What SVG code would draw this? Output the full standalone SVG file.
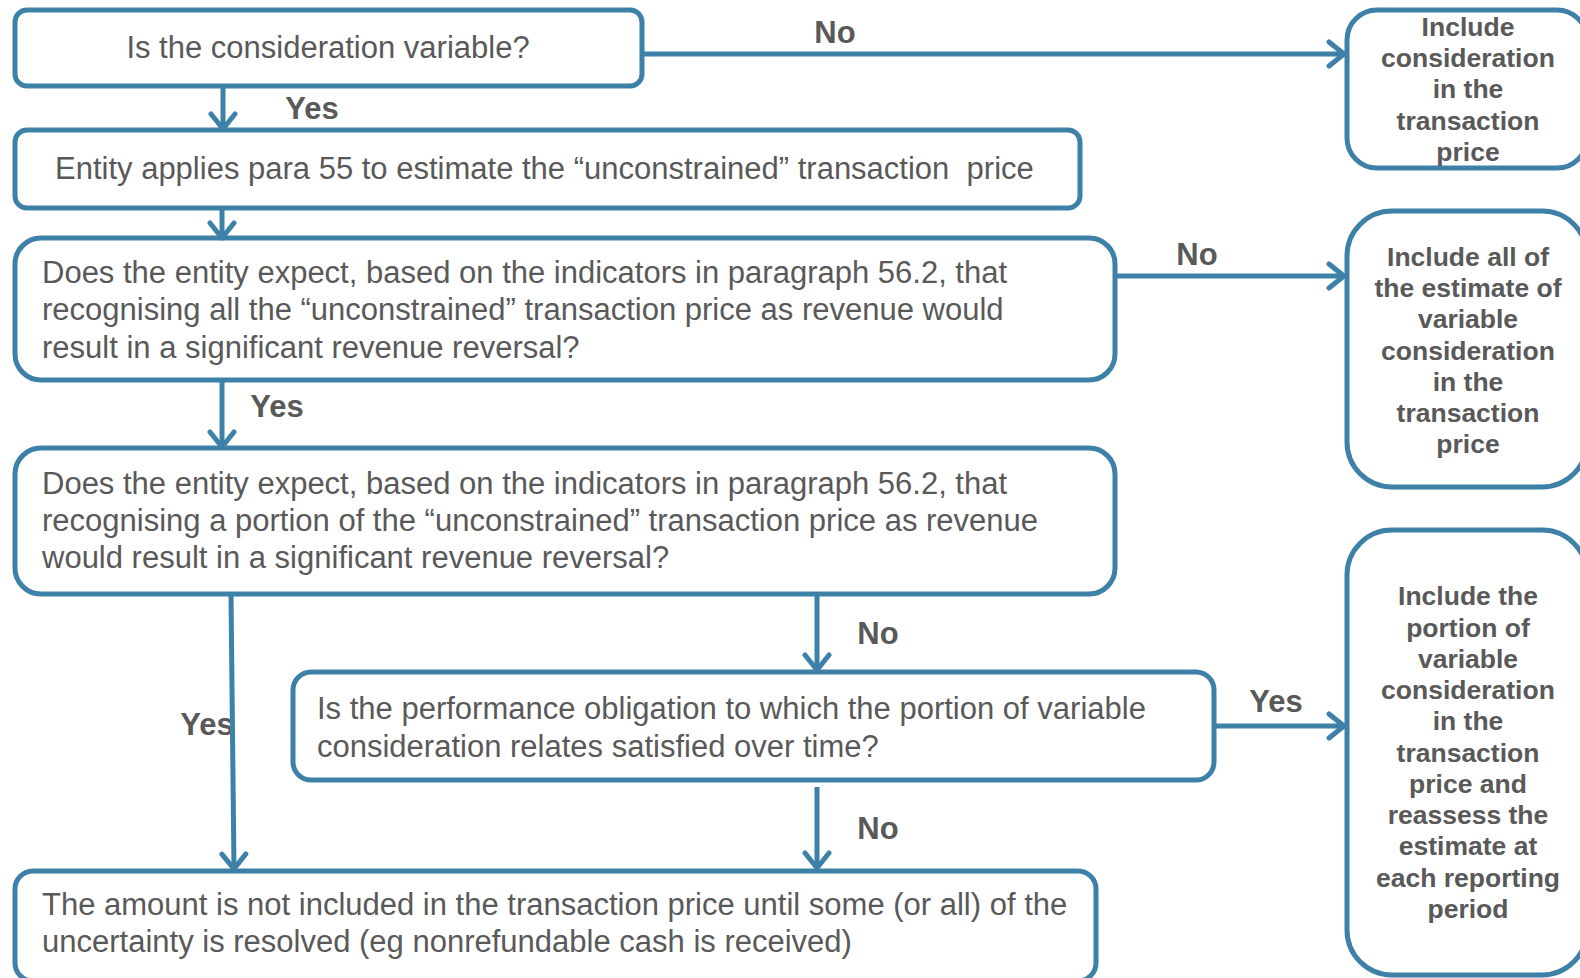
<svg xmlns="http://www.w3.org/2000/svg" width="1580" height="978" viewBox="0 0 1580 978">
<defs>
<marker id="ah" markerUnits="userSpaceOnUse" markerWidth="30" markerHeight="30" viewBox="0 0 30 30" refX="24" refY="15" orient="auto">
<path d="M9,3 L24,15 L9,27" fill="none" stroke="#3d80a8" stroke-width="5" stroke-linecap="round" stroke-linejoin="round"/>
</marker>
<style>
.box{fill:#fff;stroke:#3d80a8;stroke-width:5}
.t{font-family:"Liberation Sans",Arial,sans-serif;font-size:31px;fill:#595959}
.b{font-family:"Liberation Sans",Arial,sans-serif;font-size:26.5px;font-weight:bold;fill:#595959;text-anchor:middle}
.lbl{font-family:"Liberation Sans",Arial,sans-serif;font-size:31px;font-weight:bold;fill:#595959;text-anchor:middle}
.c{fill:none;stroke:#3d80a8;stroke-width:5;marker-end:url(#ah)}
</style>
</defs>
<rect width="1580" height="978" fill="#fff"/>

<g id="n1">
<rect class="box" x="15" y="10" width="627" height="76" rx="12"/>
<text class="t" x="328" y="58" text-anchor="middle">Is the consideration variable?</text>
</g>
<g id="n2">
<rect class="box" x="15" y="130" width="1065" height="78" rx="12"/>
<text class="t" x="55" y="179" style="white-space:pre">Entity applies para 55 to estimate the “unconstrained” transaction  price</text>
</g>
<g id="n3">
<rect class="box" x="15" y="238" width="1100" height="142" rx="26"/>
<text class="t" x="42" y="283">Does the entity expect, based on the indicators in paragraph 56.2, that</text>
<text class="t" x="42" y="320">recognising all the “unconstrained” transaction price as revenue would</text>
<text class="t" x="42" y="358">result in a significant revenue reversal?</text>
</g>
<g id="n4">
<rect class="box" x="15" y="448" width="1100" height="146" rx="26"/>
<text class="t" x="42" y="494">Does the entity expect, based on the indicators in paragraph 56.2, that</text>
<text class="t" x="42" y="531">recognising a portion of the “unconstrained” transaction price as revenue</text>
<text class="t" x="42" y="568">would result in a significant revenue reversal?</text>
</g>
<g id="n5">
<rect class="box" x="293" y="672" width="921" height="108" rx="18"/>
<text class="t" x="317" y="719">Is the performance obligation to which the portion of variable</text>
<text class="t" x="317" y="757">consideration relates satisfied over time?</text>
</g>
<g id="n6">
<rect class="box" x="15" y="871" width="1081" height="110" rx="18"/>
<text class="t" x="42" y="915">The amount is not included in the transaction price until some (or all) of the</text>
<text class="t" x="42" y="952">uncertainty is resolved (eg nonrefundable cash is received)</text>
</g>
<g id="r1">
<rect class="box" x="1347" y="10" width="240" height="158" rx="30"/>
<text class="b" x="1468" y="36">Include</text>
<text class="b" x="1468" y="67">consideration</text>
<text class="b" x="1468" y="98">in the</text>
<text class="b" x="1468" y="130">transaction</text>
<text class="b" x="1468" y="161">price</text>
</g>
<g id="r2">
<rect class="box" x="1347" y="211" width="240" height="276" rx="45"/>
<text class="b" x="1468" y="266">Include all of</text>
<text class="b" x="1468" y="297">the estimate of</text>
<text class="b" x="1468" y="328">variable</text>
<text class="b" x="1468" y="360">consideration</text>
<text class="b" x="1468" y="391">in the</text>
<text class="b" x="1468" y="422">transaction</text>
<text class="b" x="1468" y="453">price</text>
</g>
<g id="r3">
<rect class="box" x="1347" y="530" width="240" height="445" rx="45"/>
<text class="b" x="1468" y="605">Include the</text>
<text class="b" x="1468" y="637">portion of</text>
<text class="b" x="1468" y="668">variable</text>
<text class="b" x="1468" y="699">consideration</text>
<text class="b" x="1468" y="730">in the</text>
<text class="b" x="1468" y="762">transaction</text>
<text class="b" x="1468" y="793">price and</text>
<text class="b" x="1468" y="824">reassess the</text>
<text class="b" x="1468" y="855">estimate at</text>
<text class="b" x="1468" y="887">each reporting</text>
<text class="b" x="1468" y="918">period</text>
</g>

<g id="labels">
<text class="lbl" x="835" y="43">No</text>
<text class="lbl" x="312" y="119">Yes</text>
<text class="lbl" x="1197" y="265">No</text>
<text class="lbl" x="277" y="417">Yes</text>
<text class="lbl" x="878" y="644">No</text>
<text class="lbl" x="1276" y="712">Yes</text>
<text class="lbl" x="207" y="735">Yes</text>
<text class="lbl" x="878" y="839">No</text>
</g>

<g id="connectors">
<line class="c" x1="642" y1="54" x2="1344" y2="54"/>
<line class="c" x1="223" y1="87" x2="223" y2="129"/>
<line class="c" x1="222" y1="209" x2="222" y2="238"/>
<line class="c" x1="1116" y1="276" x2="1344" y2="276"/>
<line class="c" x1="222" y1="381" x2="222" y2="447"/>
<line class="c" x1="231" y1="595" x2="234" y2="869"/>
<line class="c" x1="817" y1="595" x2="817" y2="670"/>
<line class="c" x1="1215" y1="726" x2="1344" y2="726"/>
<line class="c" x1="817" y1="787" x2="817" y2="868"/>
</g>
</svg>
